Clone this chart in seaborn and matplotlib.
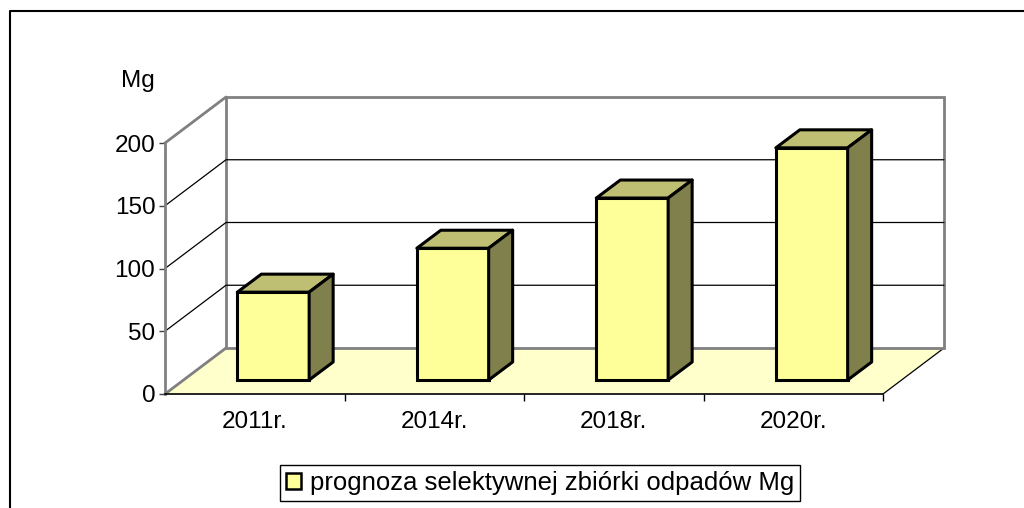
import numpy as np
import matplotlib
matplotlib.use("Agg")
import matplotlib.pyplot as plt
import seaborn as sns
from matplotlib.patches import Polygon, Patch
from matplotlib.lines import Line2D
from matplotlib.transforms import Affine2D, IdentityTransform

years = ["2011r.", "2014r.", "2018r.", "2020r."]
values = [70, 105, 145, 185]
y_ticks = [0, 50, 100, 150, 200]
legend_label = "prognoza selektywnej zbiórki odpadów Mg"

front_c = "#FFFF99"
top_c = "#BFBF73"
side_c = "#80804C"
floor_c = "#FFFFCC"
fs = 17.5

sns.set_style("white")
plt.rcParams["font.family"] = ["Liberation Sans", "DejaVu Sans"]
plt.rcParams["text.color"] = "black"
plt.rcParams["xtick.labelcolor"] = "black"
plt.rcParams["ytick.labelcolor"] = "black"

fig = plt.figure(figsize=(10.24, 5.08), dpi=100)
W, H = 1024, 508
ax = fig.add_axes([165 / W, (H - 394) / H, 718 / W, 251 / H])
ax.patch.set_visible(False)

sns.barplot(x=years, y=values, color=front_c, saturation=1, width=0.4,
            edgecolor="black", linewidth=2.2, ax=ax)
ax.set_xlim(-0.5, 3.5)
ax.set_ylim(0, 200)

# pixel offsets for the fake 3d look
bar_off = np.array([18.5, 14.0])
depth = np.array([24.0, 18.0])
wall = np.array([61.0, 46.0])
ident = IdentityTransform()

def disp(pts):
    return ax.transData.transform(pts)

# floor
fl, fr = disp([(-0.5, 0), (3.5, 0)])
ax.add_patch(Polygon([fl, fr, fr + wall, fl + wall], closed=True, transform=ident,
                     fc=floor_c, ec="none", zorder=0.1, clip_on=False))
ax.add_artist(Line2D([fr[0], fr[0] + wall[0]], [fr[1], fr[1] + wall[1]], transform=ident,
                     color="black", lw=0.9, zorder=0.2, clip_on=False))

# back wall + side wall
tl, tr = disp([(-0.5, 200), (3.5, 200)])
ax.add_patch(Polygon([fl + wall, fr + wall, tr + wall, tl + wall], closed=True, transform=ident,
                     fc="white", ec="#808080", lw=2, zorder=0.3, clip_on=False))
for v in y_ticks:
    p, q = disp([(-0.5, v), (3.5, v)])
    if v in (0, 200):
        ax.add_artist(Line2D([p[0], p[0] + wall[0]], [p[1], p[1] + wall[1]], transform=ident,
                             color="#808080", lw=2, zorder=0.4, clip_on=False))
    else:
        ax.add_artist(Line2D([p[0], p[0] + wall[0], q[0] + wall[0]],
                             [p[1], p[1] + wall[1], q[1] + wall[1]], transform=ident,
                             color="black", lw=0.9, zorder=0.4, clip_on=False))

# bars: shift front faces and add top / side faces
for i, bar in enumerate(ax.patches[:len(values)]):
    x0, w, h = bar.get_x(), bar.get_width(), bar.get_height()
    bar.set_transform(ax.transData + Affine2D().translate(*bar_off))
    bar.set_clip_on(False)
    bar.set_zorder(2 + i)
    a, b, c = disp([(x0, h), (x0 + w, h), (x0 + w, 0)]) + bar_off
    ax.add_patch(Polygon([a, b, b + depth, a + depth], closed=True, transform=ident,
                         fc=top_c, ec="black", lw=2.2, zorder=2 + i, clip_on=False, joinstyle="round"))
    ax.add_patch(Polygon([b, c, c + depth, b + depth], closed=True, transform=ident,
                         fc=side_c, ec="black", lw=2.2, zorder=2 + i, clip_on=False, joinstyle="round"))

# axes styling
for s in ["top", "right"]:
    ax.spines[s].set_visible(False)
ax.spines["left"].set_color("#808080")
ax.spines["left"].set_linewidth(2)
ax.spines["bottom"].set_color("black")
ax.spines["bottom"].set_linewidth(1.2)
ax.spines["left"].set_zorder(10)
ax.spines["bottom"].set_zorder(10)

ax.set_yticks(y_ticks)
ax.tick_params(axis="y", direction="out", length=4, width=1, color="#404040",
               labelsize=fs, pad=3, left=True)
ax.set_xticks(range(len(years)))
ax.set_xticklabels(years)
ax.set_xticks([0.5, 1.5, 2.5, 3.5], minor=True)
ax.tick_params(axis="x", which="major", length=0, labelsize=fs, pad=12)
ax.tick_params(axis="x", which="minor", direction="out", length=5, width=1, color="black", bottom=True)
ax.set_xlabel("")
ax.set_ylabel("")

fig.text(138 / W, 1 - 81 / H, "Mg", ha="center", va="center", fontsize=fs)

handle = Patch(fc=front_c, ec="black", lw=1.8)
leg = fig.legend([handle], [legend_label], loc="center",
                 bbox_to_anchor=(540 / W, 1 - 483 / H), fontsize=18.5, frameon=True,
                 fancybox=False, framealpha=1, edgecolor="black", handlelength=0.6,
                 handleheight=0.6, handletextpad=0.35, borderpad=0.22, borderaxespad=0)
leg.get_frame().set_linewidth(1)

# outer chart frame
fig.add_artist(Line2D([10 / W, 10 / W, 1.0], [0, 1 - 11 / H, 1 - 11 / H],
                      transform=fig.transFigure, color="black", lw=1.5))

fig.savefig("out.png", dpi=100)
